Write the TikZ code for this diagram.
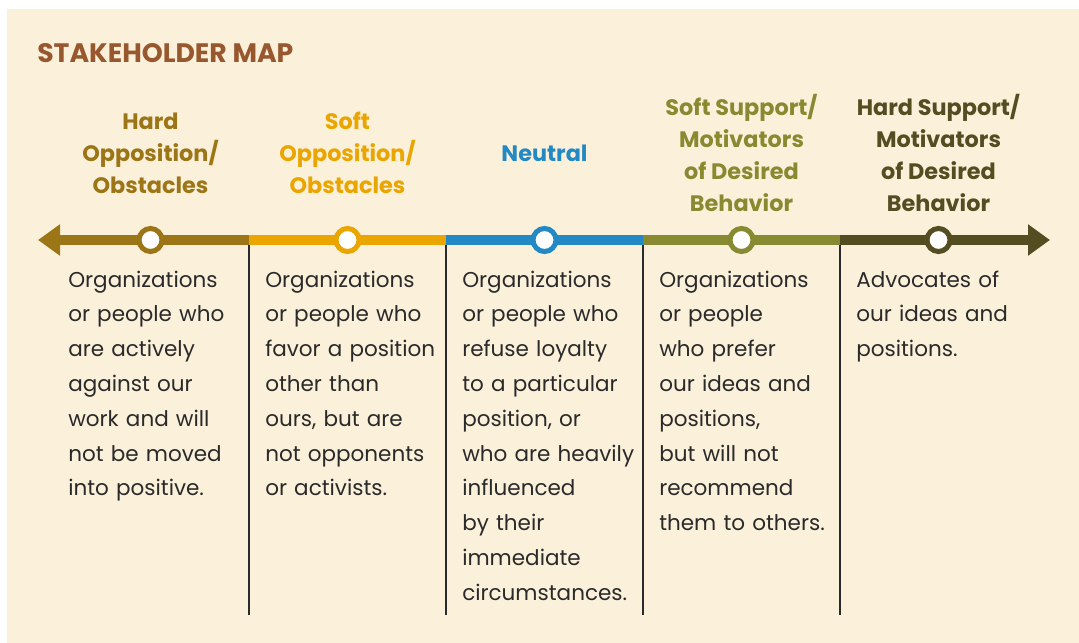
\documentclass[tikz,border=0pt]{standalone}
\usepackage{fontspec}
\setmainfont{Poppins}
\usetikzlibrary{arrows.meta}

\begin{document}
\begin{tikzpicture}[x=0.025cm,y=-0.025cm,
  bar/.style={line width=7.1pt},
  tip/.style={-{Triangle[length=0.55cm,width=0.75cm]}},
  rule/.style={draw=ink,line width=1.3pt},
  stop/.style={circle,draw=#1,fill=white,line width=3.56pt,minimum size=0.575cm,inner sep=0pt},
  heading/.style={align=center,inner sep=0pt,text=#1,font=\fontsize{15.9}{22.8}\selectfont\bfseries},
  blurb/.style={anchor=base west,align=left,inner sep=0pt,text width=4.8cm,text=ink,font=\fontsize{15.3}{24.75}\selectfont}]
\definecolor{paper}{HTML}{FBF0DA}
\definecolor{ink}{HTML}{2A2A2A}
\definecolor{titlebrown}{HTML}{98582F}
\definecolor{hardopp}{HTML}{9C7516}
\definecolor{softopp}{HTML}{EAA500}
\definecolor{neutral}{HTML}{2389C4}
\definecolor{softsup}{HTML}{878A30}
\definecolor{hardsup}{HTML}{544D22}
\fill[white] (0,0) rectangle (1079,643);
\fill[paper] (7,9) rectangle (1079,643);
\useasboundingbox (0,0) rectangle (1079,643);

\node[anchor=base west,inner sep=0pt,text=titlebrown,font=\fontsize{19}{22}\selectfont\bfseries] (title) at (37,63) {STAKEHOLDER MAP};

% the scale: column borders, tips and dividers
\coordinate (b0) at (38,240);
\coordinate (b5) at (1050,240);
\foreach \k/\x in {1/249,2/446,3/643,4/840}
{ \coordinate (b\k) at (\x,240);
  \coordinate (f\k) at (\x,615);
  \draw[rule] (b\k) -- (f\k); }

\draw[bar,tip,hardopp] (b1) -- (b0);
\draw[bar,softopp] (b1) -- (b2);
\draw[bar,neutral] (b2) -- (b3);
\draw[bar,softsup] (b3) -- (b4);
\draw[bar,tip,hardsup] (b4) -- (b5);

\foreach \k/\crlr in {1/hardopp,2/softopp,3/neutral,4/softsup,5/hardsup}
  { \node[stop=\crlr] (s\k) at ({197*\k-46.5},240) {}; }

\foreach \k/\crlr/\head in {1/hardopp/{Hard\\Opposition/\\Obstacles},
  2/softopp/{Soft\\Opposition/\\Obstacles},
  3/neutral/{Neutral},
  4/softsup/{Soft Support/\\Motivators\\of Desired\\Behavior},
  5/hardsup/{Hard Support/\\Motivators\\of Desired\\Behavior}}
  { \node[heading=\crlr] (h\k) at ({197*\k-46.5},153) {\head}; }

\foreach \k/\txt in {1/{Organizations\\or people who\\are actively\\against our\\work and will\\not be moved\\into positive.},
  2/{Organizations\\or people who\\favor a position\\other than\\ours, but are\\not opponents\\or activists.},
  3/{Organizations\\or people who\\refuse loyalty\\to a particular\\position, or\\who are heavily\\influenced\\by their\\immediate\\circumstances.},
  4/{Organizations\\or people\\who prefer\\our ideas and\\positions,\\but will not\\recommend\\them to others.},
  5/{Advocates of\\our ideas and\\positions.}}
  { \node[blurb] (t\k) at ({197*\k-129},287) {\txt}; }
\end{tikzpicture}
\end{document}
